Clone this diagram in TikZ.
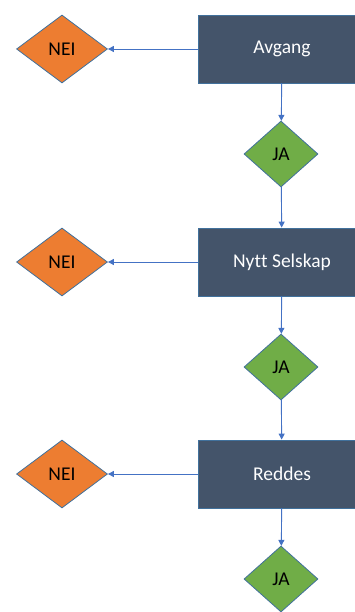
\documentclass[tikz,border=0pt]{standalone}
\usepackage{fontspec}
\setmainfont[Ligatures=NoCommon]{Carlito}
\usetikzlibrary{shapes.geometric,arrows.meta}
\definecolor{stagefill}{HTML}{44546A}
\definecolor{edgeblue}{HTML}{41719C}
\definecolor{linkblue}{HTML}{4472C4}
\definecolor{neiorange}{HTML}{ED7D31}
\definecolor{jagreen}{HTML}{70AD47}
\begin{document}
\begin{tikzpicture}[x=1pt, y=-1pt,
  stage/.style={draw=edgeblue, fill=stagefill, text=white, line width=0.8pt,
    minimum width=168pt, minimum height=68pt, inner sep=0pt,
    font=\fontsize{19.5}{22}\selectfont},
  nei/.style={diamond, draw=edgeblue, fill=neiorange, line width=0.8pt,
    minimum width=91pt, minimum height=68pt, inner sep=0pt,
    font=\fontsize{19.5}{22}\selectfont},
  ja/.style={diamond, draw=edgeblue, fill=jagreen, line width=0.8pt,
    minimum width=74pt, minimum height=66pt, inner sep=0pt,
    font=\fontsize{19.5}{22}\selectfont},
  link/.style={draw=linkblue, line width=0.9pt, -{Triangle[length=6pt,width=6pt]}}]
\useasboundingbox (0,0) rectangle (355,612);

% stages
\node[stage] (avgang) at (282,49) {Avgang};
\node[stage] (selskap) at (282,262) {Nyt\kern0pt t Selskap};
\node[stage] (reddes) at (282,474) {Reddes};

% NEI / JA
\node[nei] (nei1) at (62,49) {NEI};
\node[nei] (nei2) at (62,262) {NEI};
\node[nei] (nei3) at (62,474) {NEI};
\node[ja] (ja1) at (281,154) {JA};
\node[ja] (ja2) at (281,367) {JA};
\node[ja] (ja3) at (281,579) {JA};

\draw[link] (avgang) -- (nei1);
\draw[link] (selskap) -- (nei2);
\draw[link] (reddes) -- (nei3);
\draw[link] (avgang) -- (ja1);
\draw[link] (ja1) -- (selskap);
\draw[link] (selskap) -- (ja2);
\draw[link] (ja2) -- (reddes);
\draw[link] (reddes) -- (ja3);
\end{tikzpicture}
\end{document}
